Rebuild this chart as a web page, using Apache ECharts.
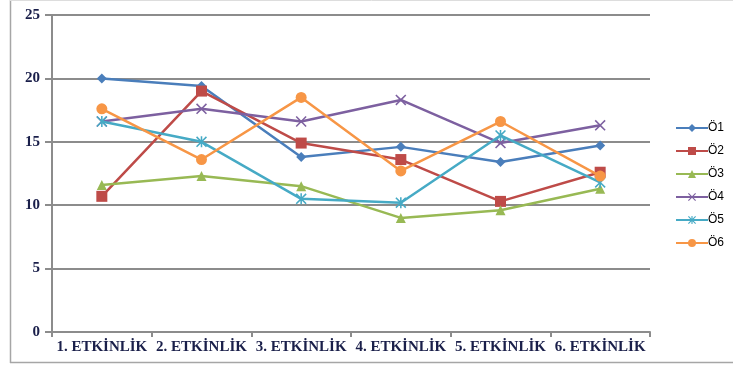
<!DOCTYPE html>
<html>
<head>
<meta charset="utf-8">
<script src="https://cdn.jsdelivr.net/npm/echarts@6/dist/echarts.min.js"></script>
<style>
  html, body { margin: 0; padding: 0; background: #fff; }
  #chart { width: 733px; height: 367px; }
</style>
</head>
<body>
<div id="chart"></div>
<script>
// Activity labels along the x axis
const categories = ['1. ETKİNLİK', '2. ETKİNLİK', '3. ETKİNLİK', '4. ETKİNLİK', '5. ETKİNLİK', '6. ETKİNLİK'];
const yTicks = [0, 5, 10, 15, 20, 25];

// Scores per student
const o1 = [20.0, 19.4, 13.8, 14.6, 13.4, 14.7];
const o2 = [10.7, 19.0, 14.9, 13.6, 10.3, 12.6];
const o3 = [11.6, 12.3, 11.5, 9.0, 9.6, 11.3];
const o4 = [16.6, 17.6, 16.6, 18.3, 14.9, 16.3];
const o5 = [16.6, 15.0, 10.5, 10.2, 15.5, 11.8];
const o6 = [17.6, 13.6, 18.5, 12.7, 16.6, 12.3];

const names = ['Ö1', 'Ö2', 'Ö3', 'Ö4', 'Ö5', 'Ö6'];
const values = [o1, o2, o3, o4, o5, o6];
const colors = ['#4a7ebb', '#be4b48', '#98b954', '#7d60a0', '#46aac5', '#f79646'];

const crossPath = 'path://M0,1 L1,0 L5,4 L9,0 L10,1 L6,5 L10,9 L9,10 L5,6 L1,10 L0,9 L4,5 Z';
const starPath = 'path://M0,1 L1,0 L5,4 L9,0 L10,1 L6,5 L10,9 L9,10 L5,6 L1,10 L0,9 L4,5 Z M4.3,0 L5.7,0 L5.7,10 L4.3,10 Z';
const symbols = ['diamond', 'rect', 'triangle', crossPath, starPath, 'circle'];
const symbolSizes = [10, 11, 10, 11, 11, 11];

const chart = echarts.init(document.getElementById('chart'));

chart.setOption({
  animation: false,
  backgroundColor: '#fff',
  graphic: [
    { type: 'line', shape: { x1: 10.5, y1: 0, x2: 10.5, y2: 363 }, style: { stroke: '#a6a6a6', lineWidth: 1.5 } },
    { type: 'line', shape: { x1: 10, y1: 362.5, x2: 733, y2: 362.5 }, style: { stroke: '#a6a6a6', lineWidth: 1.5 } },
    { type: 'line', shape: { x1: 10, y1: 0.5, x2: 733, y2: 0.5 }, style: { stroke: '#dddddd', lineWidth: 1 } }
  ],
  grid: { left: 52, right: 83, top: 15, bottom: 35, containLabel: false },
  legend: {
    orient: 'vertical',
    left: 670,
    top: 117,
    itemWidth: 32,
    itemHeight: 10,
    itemGap: 11,
    textStyle: { color: '#000', fontFamily: 'Liberation Sans, Arial, sans-serif', fontSize: 12, padding: [0, 0, 0, -5] },
    data: names
  },
  xAxis: {
    type: 'category',
    data: categories,
    boundaryGap: true,
    axisLine: { lineStyle: { color: '#8c8c8c', width: 2 } },
    axisTick: { show: true, length: 5, lineStyle: { color: '#8c8c8c', width: 2 } },
    axisLabel: {
      color: '#1a1f4a',
      fontFamily: 'Liberation Serif, Times New Roman, serif',
      fontWeight: 'bold',
      fontSize: 15,
      margin: 8,
      interval: 0
    },
    splitLine: { show: false }
  },
  yAxis: {
    type: 'value',
    min: yTicks[0],
    max: yTicks[yTicks.length - 1],
    interval: yTicks[1] - yTicks[0],
    axisLine: { show: true, lineStyle: { color: '#8c8c8c', width: 2 } },
    axisTick: { show: true, length: 7, lineStyle: { color: '#8c8c8c', width: 2 } },
    axisLabel: {
      color: '#1a1f4a',
      fontFamily: 'Liberation Serif, Times New Roman, serif',
      fontWeight: 'bold',
      fontSize: 15,
      margin: 12
    },
    splitLine: { show: true, lineStyle: { color: '#8c8c8c', width: 2 } }
  },
  series: names.map((n, i) => ({
    name: n,
    type: 'line',
    data: values[i],
    color: colors[i],
    symbol: symbols[i],
    symbolSize: symbolSizes[i],
    showSymbol: true,
    lineStyle: { width: 2.5, color: colors[i] },
    itemStyle: { color: colors[i] },
    z: 2 + i
  }))
});
</script>
</body>
</html>
